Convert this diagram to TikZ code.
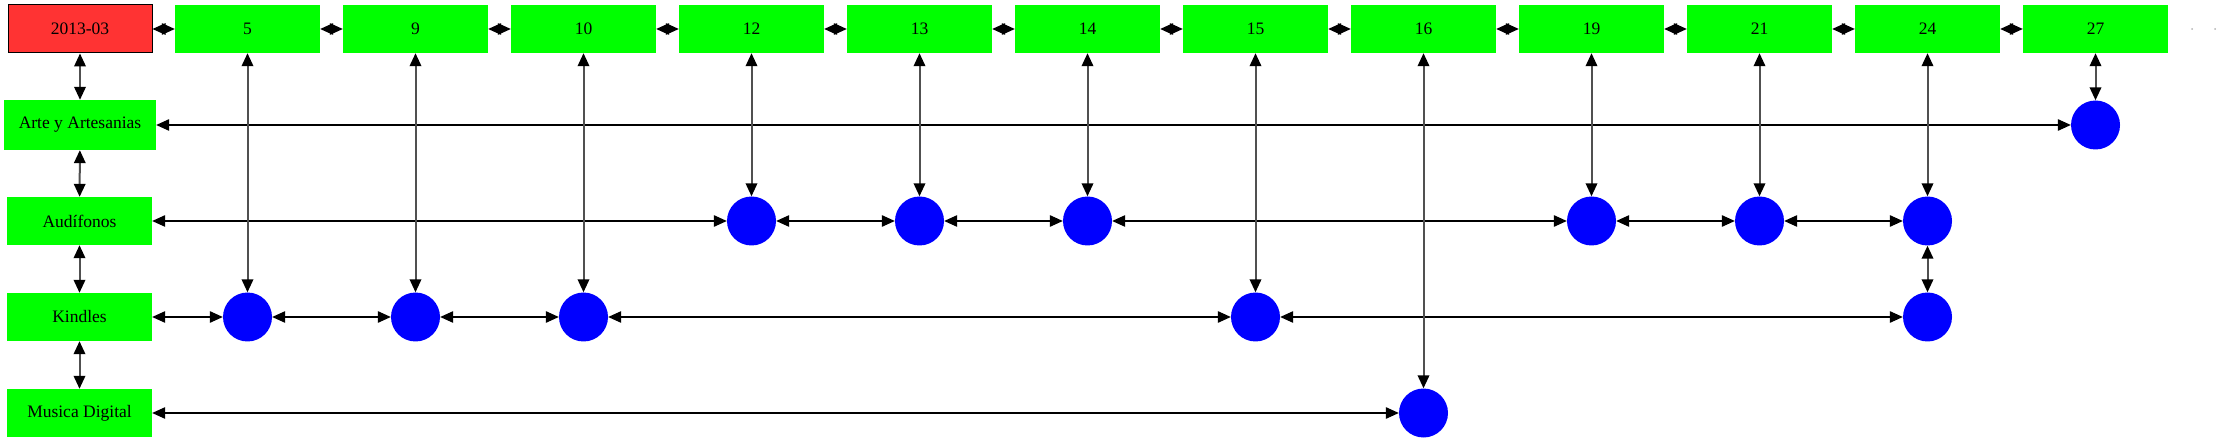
\documentclass[tikz,border=0pt]{standalone}
\usepackage{fontspec}
\setmainfont{Liberation Serif}
\usetikzlibrary{arrows.meta}
\definecolor{boxgreen}{RGB}{0,255,0}
\definecolor{boxred}{RGB}{255,51,51}
\definecolor{dotblue}{RGB}{0,0,255}
\definecolor{vgray}{RGB}{80,80,80}
\begin{document}
\begin{tikzpicture}[x=1pt,y=-1pt,
  box/.style={fill=boxgreen, minimum width=145pt, minimum height=48pt, inner sep=0pt, font=\fontsize{17.5}{20}\selectfont},
  dot/.style={circle, fill=dotblue, minimum size=49pt, inner sep=0pt},
  link/.style={{Triangle[length=13pt,width=11.5pt,color=black]}-{Triangle[length=13pt,width=11.5pt,color=black]}, line width=1.2pt, draw=black},
  vlink/.style={link, draw=vgray, line width=2pt},
  endmark/.style={circle, fill=gray!60, minimum size=2pt, inner sep=0pt}
]
\useasboundingbox (0,0) rectangle (2221,443);

% top row
\node[box, draw=black, line width=1pt, fill=boxred, minimum width=144pt] (d) at (80,29) {2013-03};
\node[box] (t5)  at (247.5,29) {5};
\node[box] (t9)  at (415.5,29) {9};
\node[box] (t10) at (583.5,29) {10};
\node[box] (t12) at (751.5,29) {12};
\node[box] (t13) at (919.5,29) {13};
\node[box] (t14) at (1087.5,29) {14};
\node[box] (t15) at (1255.5,29) {15};
\node[box] (t16) at (1423.5,29) {16};
\node[box] (t19) at (1591.5,29) {19};
\node[box] (t21) at (1759.5,29) {21};
\node[box] (t24) at (1927.5,29) {24};
\node[box] (t27) at (2095.5,29) {27};
\node[endmark] (e1) at (2192,29) {};
\node[endmark] (e2) at (2215,29) {};

% left column
\node[box, minimum width=152pt, minimum height=50pt] (arte) at (80,125) {Arte y Artesanias};
\node[box] (aud) at (79.5,221) {Audífonos};
\node[box] (kin) at (79.5,317) {Kindles};
\node[box] (mus) at (79.5,413) {Musica Digital};

% circles
\node[dot] (a27) at (2095.5,125) {};
\node[dot] (u12) at (751.5,221) {};
\node[dot] (u13) at (919.5,221) {};
\node[dot] (u14) at (1087.5,221) {};
\node[dot] (u19) at (1591.5,221) {};
\node[dot] (u21) at (1759.5,221) {};
\node[dot] (u24) at (1927.5,221) {};
\node[dot] (k5)  at (247.5,317) {};
\node[dot] (k9)  at (415.5,317) {};
\node[dot] (k10) at (583.5,317) {};
\node[dot] (k15) at (1255.5,317) {};
\node[dot] (k24) at (1927.5,317) {};
\node[dot] (m16) at (1423.5,413) {};

% top row links
\foreach \a/\b in {d/t5,t5/t9,t9/t10,t10/t12,t12/t13,t13/t14,t14/t15,t15/t16,t16/t19,t19/t21,t21/t24,t24/t27}
  \draw[link] (\a) -- (\b);

% left column links
\foreach \a/\b in {d/arte,arte/aud,aud/kin,kin/mus}
  \draw[vlink] (\a) -- (\b);

% horizontal row links
\foreach \a/\b in {arte/a27,aud/u12,u12/u13,u13/u14,u14/u19,u19/u21,u21/u24,kin/k5,k5/k9,k9/k10,k10/k15,k15/k24,mus/m16}
  \draw[link] (\a) -- (\b);

% vertical column links
\foreach \a/\b in {t5/k5,t9/k9,t10/k10,t12/u12,t13/u13,t14/u14,t15/k15,t16/m16,t19/u19,t21/u21,t24/u24,u24/k24,t27/a27}
  \draw[vlink] (\a) -- (\b);
\end{tikzpicture}
\end{document}
